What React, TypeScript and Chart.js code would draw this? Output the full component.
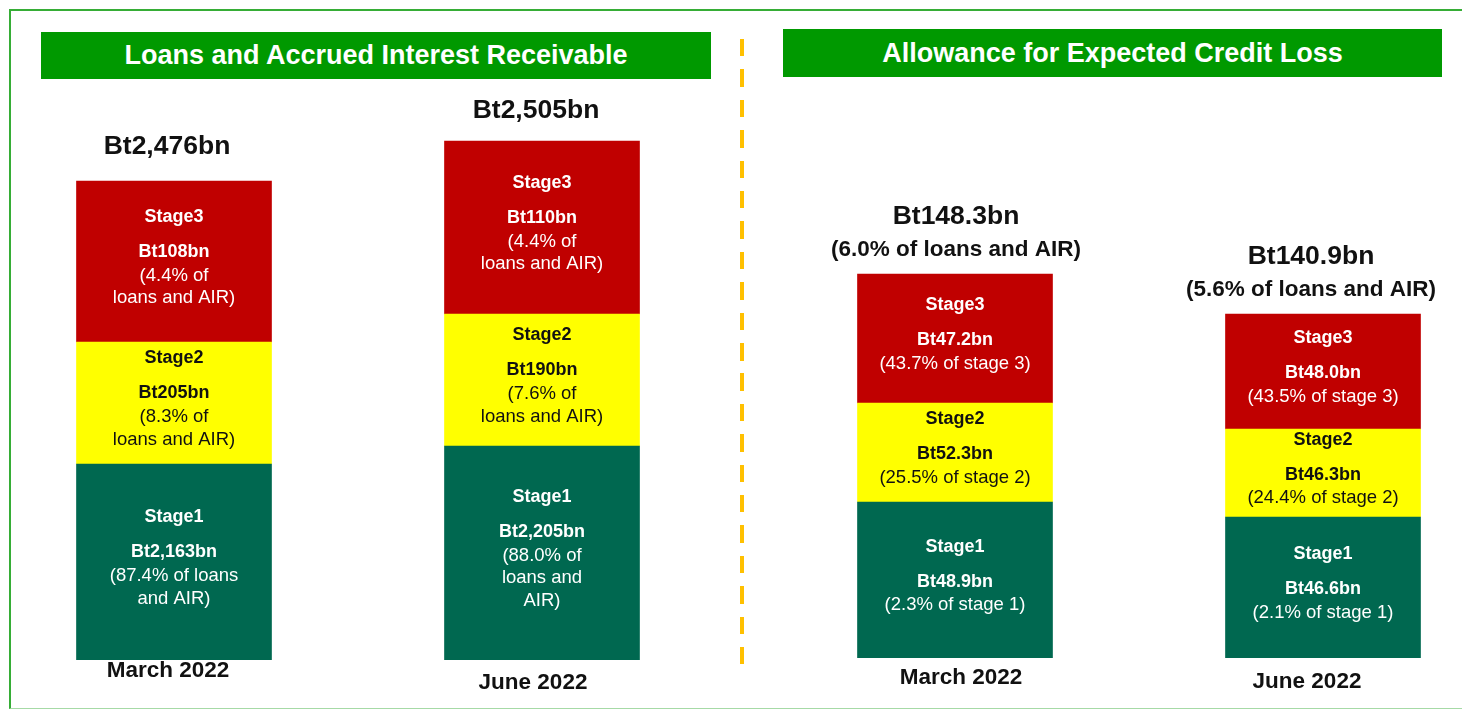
import React, { useEffect, useRef } from "react";
import { Chart, registerables } from "chart.js";

Chart.register(...registerables);

// ---------------- DATA ----------------
const loanCategories = ["March 2022", "June 2022"];
const loanTotals = [["Bt2,476bn"], ["Bt2,505bn"]];
// relative block sizes of each stage, as drawn in the picture
const loanStage1Size = [196, 214];
const loanStage2Size = [122, 132];
const loanStage3Size = [161, 173];
const loanStage1Value = ["Bt2,163bn", "Bt2,205bn"];
const loanStage2Value = ["Bt205bn", "Bt190bn"];
const loanStage3Value = ["Bt108bn", "Bt110bn"];
const loanStage1Share = [["(87.4% of loans", "and AIR)"], ["(88.0% of", "loans and", "AIR)"]];
const loanStage2Share = [["(8.3% of", "loans and AIR)"], ["(7.6% of", "loans and AIR)"]];
const loanStage3Share = [["(4.4% of", "loans and AIR)"], ["(4.4% of", "loans and AIR)"]];

const eclCategories = ["March 2022", "June 2022"];
const eclTotals = [
  ["Bt148.3bn", "(6.0% of loans and AIR)"],
  ["Bt140.9bn", "(5.6% of loans and AIR)"],
];
const eclStage1Size = [156, 141];
const eclStage2Size = [99, 88];
const eclStage3Size = [129, 115];
const eclStage1Value = ["Bt48.9bn", "Bt46.6bn"];
const eclStage2Value = ["Bt52.3bn", "Bt46.3bn"];
const eclStage3Value = ["Bt47.2bn", "Bt48.0bn"];
const eclStage1Share = [["(2.3% of stage 1)"], ["(2.1% of stage 1)"]];
const eclStage2Share = [["(25.5% of stage 2)"], ["(24.4% of stage 2)"]];
const eclStage3Share = [["(43.7% of stage 3)"], ["(43.5% of stage 3)"]];

const stageNames = ["Stage1", "Stage2", "Stage3"];

// ---------------- STYLE ----------------
const FONT = '"Liberation Sans", Arial, Helvetica, sans-serif';
const GREEN = "#006850";
const YELLOW = "#FFFF00";
const RED = "#C00000";
const HEADER_GREEN = "#009900";
const stageColors = [GREEN, YELLOW, RED];
const stageTextColors = ["#ffffff", "#111111", "#ffffff"];

type Panel = {
  categories: string[];
  totals: string[][];
  sizes: number[][];
  values: string[][];
  shares: string[][][];
  // layout
  canvasLeft: number;
  baseline: number;
  totalDx: number[];
  totalGap: number[];
  catDx: number[];
  catDy: number[];
};

const CANVAS_TOP = 85;
const CANVAS_W = 736;
const CANVAS_H = 709 - CANVAS_TOP;

const panels: Panel[] = [
  {
    categories: loanCategories,
    totals: loanTotals,
    sizes: [loanStage1Size, loanStage2Size, loanStage3Size],
    values: [loanStage1Value, loanStage2Value, loanStage3Value],
    shares: [loanStage1Share, loanStage2Share, loanStage3Share],
    canvasLeft: -10,
    baseline: 660,
    totalDx: [-7, -6],
    totalGap: [34, 30],
    catDx: [-6, -9],
    catDy: [11, 23],
  },
  {
    categories: eclCategories,
    totals: eclTotals,
    sizes: [eclStage1Size, eclStage2Size, eclStage3Size],
    values: [eclStage1Value, eclStage2Value, eclStage3Value],
    shares: [eclStage1Share, eclStage2Share, eclStage3Share],
    canvasLeft: 771,
    baseline: 658,
    totalDx: [1, -12],
    totalGap: [24, 24],
    catDx: [6, -16],
    catDy: [20, 24],
  },
];

function makeLabelPlugin(panel: Panel) {
  return {
    id: "stageLabels",
    afterDatasetsDraw(chart: any) {
      const ctx = chart.ctx as CanvasRenderingContext2D;
      ctx.save();
      ctx.textAlign = "center";
      ctx.textBaseline = "middle";
      // segment texts
      for (let d = 0; d < 3; d++) {
        const meta = chart.getDatasetMeta(d);
        meta.data.forEach((bar: any, j: number) => {
          const { x, y, base } = bar.getProps(["x", "y", "base"], true);
          const shares = panel.shares[d][j];
          const blockH = 35 + 23.5 + 22.5 * (shares.length - 1);
          let ly = (y + base) / 2 - 4 - blockH / 2;
          ctx.fillStyle = stageTextColors[d];
          ctx.font = `bold 18px ${FONT}`;
          ctx.fillText(stageNames[d], x, ly);
          ly += 35;
          ctx.fillText(panel.values[d][j], x, ly);
          ly += 23.5;
          ctx.font = `18.5px ${FONT}`;
          shares.forEach((s, k) => {
            ctx.fillText(s, x, ly + k * 22.5);
          });
        });
      }
      // totals above stacks and category labels below
      const topMeta = chart.getDatasetMeta(2);
      const botMeta = chart.getDatasetMeta(0);
      topMeta.data.forEach((bar: any, j: number) => {
        const { x, y } = bar.getProps(["x", "y"], true);
        const lines = panel.totals[j];
        ctx.fillStyle = "#111111";
        const cx = x + panel.totalDx[j];
        if (lines.length === 1) {
          ctx.font = `bold 26.5px ${FONT}`;
          ctx.fillText(lines[0], cx, y - panel.totalGap[j]);
        } else {
          ctx.font = `bold 22.5px ${FONT}`;
          ctx.fillText(lines[1], cx, y - panel.totalGap[j]);
          ctx.font = `bold 26.5px ${FONT}`;
          ctx.fillText(lines[0], cx, y - panel.totalGap[j] - 33);
        }
      });
      botMeta.data.forEach((bar: any, j: number) => {
        const { x, base } = bar.getProps(["x", "base"], true);
        ctx.fillStyle = "#111111";
        ctx.font = `bold 22.5px ${FONT}`;
        ctx.fillText(panel.categories[j], x + panel.catDx[j], base + panel.catDy[j]);
      });
      ctx.restore();
    },
  };
}

function PanelChart({ panel }: { panel: Panel }) {
  const ref = useRef<HTMLCanvasElement | null>(null);
  useEffect(() => {
    if (!ref.current) return;
    const bottomPad = 709 - panel.baseline;
    const yMax = panel.baseline - CANVAS_TOP;
    const chart = new Chart(ref.current, {
      type: "bar",
      data: {
        labels: panel.categories,
        datasets: panel.sizes.map((s, i) => ({
          label: stageNames[i],
          data: s,
          backgroundColor: stageColors[i],
          borderWidth: 0,
          barThickness: 195,
        })),
      },
      options: {
        animation: false,
        responsive: false,
        maintainAspectRatio: false,
        layout: { padding: { top: 0, left: 0, right: 0, bottom: bottomPad } },
        plugins: {
          legend: { display: false },
          tooltip: { enabled: false },
        },
        scales: {
          x: { stacked: true, display: false },
          y: { stacked: true, display: false, min: 0, max: yMax },
        },
      },
      plugins: [makeLabelPlugin(panel)],
    } as any);
    return () => chart.destroy();
  }, [panel]);
  return (
    <canvas
      ref={ref}
      width={CANVAS_W}
      height={CANVAS_H}
      style={{
        position: "absolute",
        left: panel.canvasLeft,
        top: CANVAS_TOP,
        width: CANVAS_W,
        height: CANVAS_H,
      }}
    />
  );
}

const headerStyle: React.CSSProperties = {
  position: "absolute",
  background: HEADER_GREEN,
  color: "#ffffff",
  fontFamily: FONT,
  fontWeight: "bold",
  fontSize: 27,
  display: "flex",
  alignItems: "center",
  justifyContent: "center",
  whiteSpace: "nowrap",
};

export default function App() {
  useEffect(() => {
    document.body.style.margin = "0";
  }, []);
  return (
    <div
      style={{
        position: "fixed",
        left: 0,
        top: 0,
        width: 1462,
        height: 709,
        overflow: "hidden",
        background: "#ffffff",
      }}
    >
      {/* outer frame */}
      <div
        style={{
          position: "absolute",
          left: 9,
          top: 9,
          width: 1520,
          height: 700,
          borderTop: "2px solid #36ad36",
          borderLeft: "2px solid #36ad36",
          borderBottom: "1px solid #a6daa6",
          boxSizing: "border-box",
        }}
      />
      {/* headers */}
      <div style={{ ...headerStyle, left: 41, top: 32, width: 670, height: 47 }}>
        Loans and Accrued Interest Receivable
      </div>
      <div style={{ ...headerStyle, left: 783, top: 29, width: 659, height: 48 }}>
        Allowance for Expected Credit Loss
      </div>
      {/* dashed separator */}
      <div
        style={{
          position: "absolute",
          left: 740,
          top: 39,
          width: 4,
          height: 626,
          background:
            "repeating-linear-gradient(to bottom, #FFC000 0px, #FFC000 17.5px, transparent 17.5px, transparent 30.4px)",
        }}
      />
      {panels.map((p, i) => (
        <PanelChart key={i} panel={p} />
      ))}
    </div>
  );
}
